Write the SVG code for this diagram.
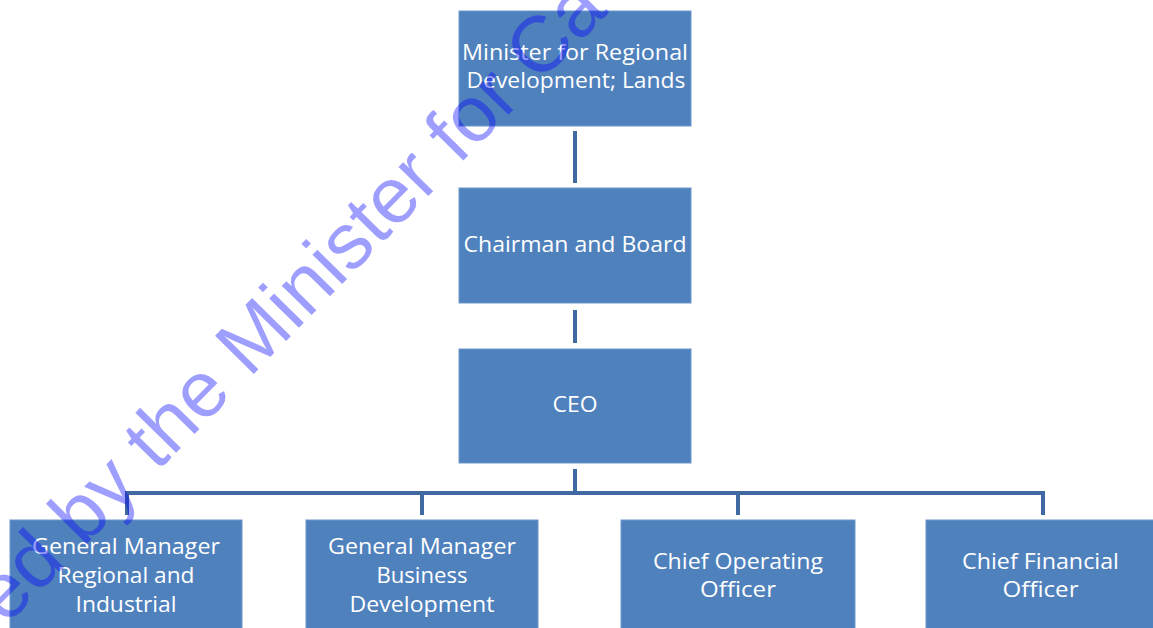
<svg xmlns="http://www.w3.org/2000/svg" width="1153" height="628" viewBox="0 0 1153 628">
<style>
.box{fill:#4f81bd;stroke:#6f98cc;stroke-width:1}
.lbl{font-family:"Open Sans","Noto Sans",sans-serif;font-size:21px;fill:#ffffff;text-anchor:middle}
.conn{stroke:#4169a1;stroke-width:4;fill:none;stroke-linecap:butt}
.wm{font-family:"Liberation Sans",Arial,sans-serif;font-size:79px;fill:#0000ff;fill-opacity:0.38}
</style>
<rect width="1153" height="628" fill="#ffffff"/>
<g id="connectors">
<line class="conn" x1="575" y1="131" x2="575" y2="183"/>
<line class="conn" x1="575" y1="310" x2="575" y2="343"/>
<line class="conn" x1="575" y1="469" x2="575" y2="493"/>
<path class="conn" d="M127 515 V493 H1043 V515"/>
<line class="conn" x1="422" y1="493" x2="422" y2="515"/>
<line class="conn" x1="738" y1="493" x2="738" y2="515"/>
</g>
<g id="minister">
<rect class="box" x="459" y="11" width="232" height="115"/>
<text class="lbl" x="575" y="60" textLength="226" lengthAdjust="spacingAndGlyphs">Minister for Regional</text>
<text class="lbl" x="576" y="88" textLength="219" lengthAdjust="spacingAndGlyphs">Development; Lands</text>
</g>
<g id="chairman">
<rect class="box" x="459" y="188" width="232" height="115"/>
<text class="lbl" x="575" y="252" textLength="223" lengthAdjust="spacingAndGlyphs">Chairman and Board</text>
</g>
<g id="ceo">
<rect class="box" x="459" y="349" width="232" height="114"/>
<text class="lbl" x="575" y="412" textLength="45" lengthAdjust="spacingAndGlyphs">CEO</text>
</g>
<g id="gm-regional">
<rect class="box" x="10" y="520" width="232" height="115"/>
<text class="lbl" x="126" y="554" textLength="188" lengthAdjust="spacingAndGlyphs">General Manager</text>
<text class="lbl" x="126" y="583" textLength="137" lengthAdjust="spacingAndGlyphs">Regional and</text>
<text class="lbl" x="126" y="612" textLength="101" lengthAdjust="spacingAndGlyphs">Industrial</text>
</g>
<g id="gm-business">
<rect class="box" x="306" y="520" width="232" height="115"/>
<text class="lbl" x="422" y="554" textLength="188" lengthAdjust="spacingAndGlyphs">General Manager</text>
<text class="lbl" x="422" y="583" textLength="91" lengthAdjust="spacingAndGlyphs">Business</text>
<text class="lbl" x="422" y="612" textLength="145" lengthAdjust="spacingAndGlyphs">Development</text>
</g>
<g id="coo">
<rect class="box" x="621" y="520" width="234" height="115"/>
<text class="lbl" x="738" y="569" textLength="170" lengthAdjust="spacingAndGlyphs">Chief Operating</text>
<text class="lbl" x="738" y="597" textLength="76" lengthAdjust="spacingAndGlyphs">Officer</text>
</g>
<g id="cfo">
<rect class="box" x="926" y="520" width="234" height="115"/>
<text class="lbl" x="1040.5" y="569" textLength="157" lengthAdjust="spacingAndGlyphs">Chief Financial</text>
<text class="lbl" x="1040.5" y="597" textLength="76" lengthAdjust="spacingAndGlyphs">Officer</text>
</g>
<text class="wm" transform="translate(6 626) rotate(-45.5)">ed by the Minister for Ca</text>
</svg>
